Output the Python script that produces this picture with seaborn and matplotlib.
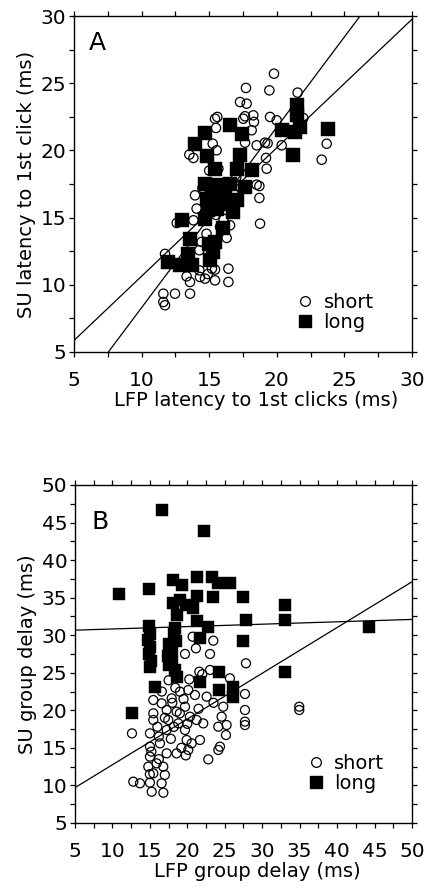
import matplotlib
matplotlib.use("Agg")
import matplotlib.pyplot as plt
from matplotlib.ticker import MultipleLocator
from matplotlib.lines import Line2D
import numpy as np
import pandas as pd
import seaborn as sns

# ---------------- Panel A data ----------------
a_short_x = [19.79, 17.72, 19.45, 21.54, 17.28, 17.77, 17.65, 18.26, 17.52, 15.60, 15.43, 18.31, 19.50,
             15.50, 18.14, 19.99, 21.96, 15.26, 17.65, 18.51, 19.13, 19.32, 20.36, 23.69, 15.55, 13.53,
             13.83, 19.20, 23.32, 15.68, 19.25, 18.51, 18.71, 13.95, 18.71, 14.07, 14.69, 13.83, 16.05,
             16.54, 18.76, 16.29, 14.44, 14.27, 16.42, 14.27, 13.58, 14.69, 15.43, 16.42, 11.61, 12.47,
             13.58, 11.61, 11.73, 11.73, 13.33, 14.32, 15.43, 12.60, 15.0, 15.5, 16.5, 15.8, 14.8, 15.2,
             16.8, 17.0, 16.0, 14.5, 15.0, 14.9, 15.2]
a_short_y = [25.71, 24.65, 24.47, 24.30, 23.60, 23.48, 22.54, 22.61, 22.36, 22.49, 22.36, 22.12, 22.49,
             21.67, 21.50, 22.24, 22.41, 20.50, 20.58, 20.38, 20.58, 20.53, 20.38, 20.50, 20.01, 19.69,
             19.44, 19.44, 19.31, 18.64, 18.64, 17.45, 17.35, 16.66, 16.46, 15.67, 15.42, 14.80, 14.92,
             14.43, 14.55, 13.49, 13.19, 12.57, 11.20, 11.08, 10.21, 10.46, 10.33, 10.21, 9.34, 9.34,
             9.34, 8.72, 8.48, 12.30, 10.63, 10.58, 11.13, 14.60, 16.0, 15.2, 15.8, 14.3, 13.8, 12.8,
             16.8, 18.0, 17.5, 17.2, 18.5, 10.8, 11.2]
a_long_x = [21.47, 21.47, 23.81, 14.69, 16.54, 17.40, 20.36, 21.35, 21.72, 13.95, 14.81, 21.22, 17.28,
            17.03, 18.14, 15.43, 14.69, 15.55, 16.54, 17.65, 14.81, 15.80, 17.03, 15.55, 16.79, 14.69,
            12.96, 13.58, 15.43, 15.31, 13.46, 15.06, 11.98, 12.84, 13.70, 15.3, 16.2, 14.9, 16.1, 15.0, 16.0]
a_long_y = [23.41, 22.66, 21.57, 21.32, 21.87, 21.25, 21.50, 21.37, 21.74, 20.50, 19.59, 19.69, 19.69,
            18.64, 18.52, 18.64, 17.53, 17.40, 17.53, 17.28, 16.41, 16.41, 16.29, 15.67, 15.42, 14.92,
            14.80, 13.44, 13.19, 12.44, 12.32, 11.83, 11.70, 11.45, 11.45, 16.9, 17.0, 15.6, 16.0, 13.0, 14.2]
# regression lines (slope, intercept)
a_fits = [(1.343, -5.13), (0.956, 1.08)]

# ---------------- Panel B data ----------------
b_short_x = [20.71, 23.47, 21.15, 23.03, 19.69, 27.83, 21.60, 23.03, 20.26, 25.69, 22.58, 24.80, 27.70,
             24.58, 27.70, 27.70, 27.70, 34.95, 34.95, 12.61, 24.14, 25.25, 25.16, 24.36, 24.14, 22.80,
             15.46, 16.57, 17.91, 19.02, 20.13, 21.02, 17.24, 18.57, 19.69, 20.35, 15.46, 15.46, 17.46,
             18.80, 19.69, 21.24, 22.13, 15.01, 17.24, 16.35, 15.01, 19.91, 20.13, 18.57, 17.24, 15.01,
             15.90, 16.79, 14.79, 15.46, 12.79, 13.68, 15.01, 16.57, 20.58, 21.69, 15.24, 16.80, 17.00,
             18.0, 19.5, 17.0, 18.2, 19.0, 16.0, 20.0, 15.2, 16.2, 17.8, 19.2, 21.5, 16.6, 18.4, 17.5,
             22.0, 15.0, 16.2, 19.8, 23.5]
b_short_y = [29.80, 29.27, 28.25, 27.50, 27.50, 26.26, 25.14, 25.37, 24.12, 24.26, 21.82, 20.48, 22.17,
             19.15, 20.04, 18.49, 18.04, 20.48, 20.04, 16.93, 17.82, 18.04, 16.71, 15.16, 14.72, 13.47,
             21.37, 20.93, 21.59, 22.48, 22.70, 22.04, 20.04, 19.82, 20.48, 19.15, 19.60, 18.71, 18.71,
             18.26, 17.38, 18.71, 18.26, 16.93, 17.38, 15.60, 15.16, 16.05, 14.72, 14.27, 14.27, 13.83,
             12.94, 12.50, 12.50, 11.61, 10.50, 10.28, 10.37, 10.28, 15.60, 16.05, 9.16, 9.03, 11.40,
             21.0, 21.5, 19.0, 17.8, 19.6, 17.8, 18.2, 14.5, 16.5, 16.2, 15.0, 20.2, 22.5, 23.0, 24.0,
             24.8, 11.5, 13.5, 14.0, 21.0]
b_long_x = [16.57, 22.22, 10.92, 14.88, 18.04, 19.24, 21.33, 23.25, 24.14, 25.69, 23.47, 21.33, 27.39,
            18.04, 19.02, 19.82, 20.80, 18.66, 21.33, 22.80, 27.83, 33.04, 33.04, 21.69, 27.47,
            14.9, 15.0, 14.8, 15.0, 14.9, 15.1, 15.0,
            18.4, 18.2, 18.5, 17.6, 17.9, 17.4, 18.0, 18.3, 18.6, 17.5,
            15.68, 21.69, 24.27, 24.27, 26.14, 26.14, 33.04, 12.57, 44.3]
b_long_y = [46.67, 43.92, 35.44, 36.11, 37.35, 36.69, 37.79, 37.70, 36.91, 36.91, 35.13, 35.22, 35.04,
            34.24, 34.69, 34.02, 33.58, 32.69, 31.89, 31.05, 32.02, 34.02, 32.02, 29.58, 29.23,
            31.2, 30.2, 29.3, 28.4, 27.5, 26.6, 25.8,
            31.0, 30.1, 29.2, 28.8, 27.9, 27.2, 26.3, 25.4, 24.5, 26.0,
            23.15, 23.82, 25.05, 22.70, 23.14, 21.8, 25.14, 19.69, 31.13]
b_fits = [(0.0318, 30.51), (0.609, 6.66)]

groups = ["short", "long"]

sns.set_style("ticks")
plt.rcParams["font.family"] = ["DejaVu Sans"]
plt.rcParams["font.size"] = 14
plt.rcParams["text.color"] = "black"
plt.rcParams["axes.labelcolor"] = "black"
plt.rcParams["xtick.color"] = "black"
plt.rcParams["ytick.color"] = "black"

fig = plt.figure(figsize=(4.27, 8.90), dpi=100)
axA = fig.add_axes([0.1733, 0.6045, 0.7916, 0.3775])
axB = fig.add_axes([0.1756, 0.0753, 0.7892, 0.3798])


def draw(ax, sx, sy, lx, ly, fits, lim, xlabel, ylabel, letter, letter_pos, leg_anchor,
         s_circ, s_sq, xlab_y):
    ds = pd.DataFrame({"x": sx, "y": sy})
    dl = pd.DataFrame({"x": lx, "y": ly})
    sns.scatterplot(data=ds, x="x", y="y", ax=ax, marker="o", s=s_circ,
                    facecolors="none", edgecolor="black", linewidth=0.9, zorder=3)
    sns.scatterplot(data=dl, x="x", y="y", ax=ax, marker="s", s=s_sq,
                    color="black", edgecolor="black", linewidth=0.3, zorder=4)
    xs = np.array(lim)
    for m, b in fits:
        ax.plot(xs, m * xs + b, color="black", lw=0.9, zorder=2)
    ax.set_xlim(*lim)
    ax.set_ylim(*lim)
    ax.xaxis.set_major_locator(MultipleLocator(5))
    ax.yaxis.set_major_locator(MultipleLocator(5))
    ax.xaxis.set_minor_locator(MultipleLocator(2.5))
    ax.yaxis.set_minor_locator(MultipleLocator(2.5))
    ax.tick_params(which="both", direction="out", top=True, right=True,
                   length=3.5, width=0.9, labelsize=14.5, colors="black")
    ax.tick_params(axis="x", which="major", pad=10)
    ax.tick_params(axis="y", which="major", pad=2)
    for sp in ax.spines.values():
        sp.set_visible(True)
        sp.set_linewidth(1.0)
        sp.set_color("black")
    ax.set_xlabel(xlabel, fontsize=14, color="black")
    ax.set_ylabel(ylabel, fontsize=14, labelpad=3, color="black")
    ax.xaxis.set_label_coords(0.54, xlab_y)
    ax.text(letter_pos[0], letter_pos[1], letter, transform=ax.transAxes,
            fontsize=18, ha="left", va="top", color="black")
    handles = [Line2D([], [], marker="o", ls="none", mfc="none", mec="black", ms=7, mew=0.9),
               Line2D([], [], marker="s", ls="none", mfc="black", mec="black", ms=8.5)]
    leg = ax.legend(handles, groups, loc="lower left", bbox_to_anchor=leg_anchor, frameon=False,
                    fontsize=14, handletextpad=0.45, labelspacing=0.05, handlelength=1.0,
                    borderaxespad=0, borderpad=0)
    for t in leg.get_texts():
        t.set_color("black")


draw(axA, a_short_x, a_short_y, a_long_x, a_long_y, a_fits, (5, 30),
     "LFP latency to 1st clicks (ms)", "SU latency to 1st click (ms)", "A", (0.045, 0.955),
     (0.655, 0.06), 45, 100, -0.115)
draw(axB, b_short_x, b_short_y, b_long_x, b_long_y, b_fits, (5, 50),
     "LFP group delay (ms)", "SU group delay (ms)", "B", (0.05, 0.925),
     (0.685, 0.09), 42, 80, -0.115)

fig.savefig("out.png", dpi=100)
